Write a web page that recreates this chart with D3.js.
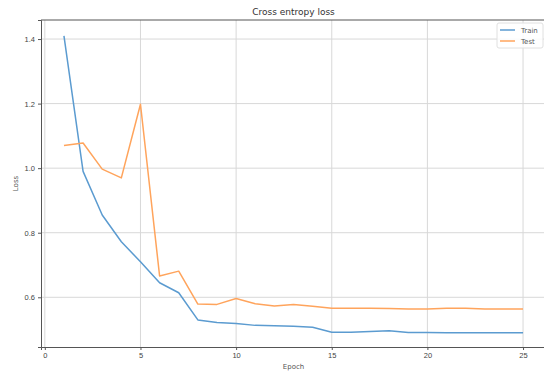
<!DOCTYPE html>
<html>
<head>
<meta charset="utf-8">
<script src="https://cdn.jsdelivr.net/npm/d3@7"></script>
<style>
  body { margin: 0; background: #fff; }
  svg { font-family: "DejaVu Sans", sans-serif; }
  .grid line { stroke: #d8d8d8; stroke-width: 1; }
  .axis path, .axis line { stroke: #555; }
  .axis text { fill: #444; font-size: 7.5px; }
</style>
</head>
<body>
<script>
const width = 544, height = 371;
const margin = { top: 20, right: -2, bottom: 24, left: 41 };

const epochs = d3.range(1, 26);
const trainLoss = [1.41, 0.99, 0.855, 0.772, 0.71, 0.645, 0.614, 0.53, 0.522, 0.519,
                   0.513, 0.512, 0.510, 0.507, 0.492, 0.492, 0.494, 0.496, 0.491, 0.491,
                   0.490, 0.490, 0.490, 0.490, 0.490];
const testLoss = [1.070, 1.078, 0.997, 0.970, 1.198, 0.666, 0.681, 0.579, 0.578, 0.596,
                  0.580, 0.573, 0.578, 0.572, 0.566, 0.566, 0.566, 0.565, 0.564, 0.564,
                  0.566, 0.566, 0.564, 0.564, 0.564];
const xTicks = [0, 5, 10, 15, 20, 25];
const yTicks = [0.6, 0.8, 1.0, 1.2, 1.4];

const series = [
  { name: 'Train', values: trainLoss, color: '#5b9bd0' },
  { name: 'Test', values: testLoss, color: '#ffa45c' }
];

const x = d3.scaleLinear().domain([-0.2, 26.2]).range([margin.left, width - margin.right]);
const y = d3.scaleLinear().domain([0.446, 1.459]).range([height - margin.bottom, margin.top]);

const svg = d3.select('body').append('svg')
    .attr('width', width).attr('height', height);

// grid
const grid = svg.append('g').attr('class', 'grid');
grid.selectAll('.gx').data(xTicks).enter().append('line')
    .attr('x1', d => x(d)).attr('x2', d => x(d))
    .attr('y1', margin.top).attr('y2', height - margin.bottom);
grid.selectAll('.gy').data(yTicks).enter().append('line')
    .attr('x1', margin.left).attr('x2', width - margin.right)
    .attr('y1', d => y(d)).attr('y2', d => y(d));

// axes
svg.append('g').attr('class', 'axis')
    .attr('transform', `translate(0,${height - margin.bottom})`)
    .call(d3.axisBottom(x).tickValues(xTicks).tickSize(3).tickPadding(3).tickFormat(d3.format('d')));
svg.append('g').attr('class', 'axis')
    .attr('transform', `translate(${margin.left},0)`)
    .call(d3.axisLeft(y).tickValues(yTicks).tickSize(3).tickPadding(3).tickFormat(d3.format('.1f')));
svg.append('line')
    .attr('x1', margin.left).attr('x2', width)
    .attr('y1', margin.top).attr('y2', margin.top)
    .attr('stroke', '#555');

// lines
const line = d3.line().x((d, i) => x(epochs[i])).y(d => y(d));
series.forEach(s => {
  svg.append('path')
      .datum(s.values)
      .attr('fill', 'none')
      .attr('stroke', s.color)
      .attr('stroke-width', 1.5)
      .attr('stroke-linejoin', 'round')
      .attr('d', line);
});

// labels
svg.append('text')
    .attr('x', (margin.left + width - margin.right) / 2).attr('y', 15)
    .attr('text-anchor', 'middle').attr('font-size', 9).attr('fill', '#333')
    .text('Cross entropy loss');
svg.append('text')
    .attr('x', (margin.left + width - margin.right) / 2).attr('y', 369)
    .attr('text-anchor', 'middle').attr('font-size', 7).attr('fill', '#555')
    .text('Epoch');
svg.append('text')
    .attr('transform', `translate(18,${(margin.top + height - margin.bottom) / 2}) rotate(-90)`)
    .attr('text-anchor', 'middle').attr('font-size', 7).attr('fill', '#555')
    .text('Loss');

// legend
const legend = svg.append('g').attr('transform', 'translate(497,23)');
legend.append('rect')
    .attr('width', 46).attr('height', 25).attr('rx', 2)
    .attr('fill', '#fff').attr('fill-opacity', 0.85)
    .attr('stroke', '#e0e0e0');
series.forEach((s, i) => {
  const g = legend.append('g').attr('transform', `translate(0,${7 + i * 11})`);
  g.append('line').attr('x1', 3).attr('x2', 18).attr('stroke', s.color).attr('stroke-width', 1.5);
  g.append('text').attr('x', 24).attr('y', 2.5)
      .attr('font-size', 7).attr('fill', '#555').text(s.name);
});
</script>
</body>
</html>
